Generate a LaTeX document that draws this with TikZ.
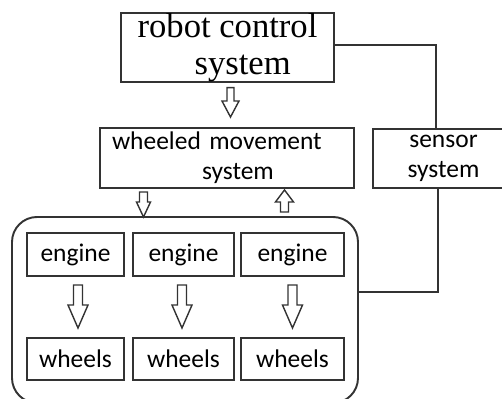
\documentclass[tikz,border=0pt]{standalone}
\usepackage{fontspec}
\newfontfamily\robotfont{Liberation Serif}
\newfontfamily\labelfont{Carlito}
\usetikzlibrary{calc}

\begin{document}
\begin{tikzpicture}[
    box/.style={rectangle, draw=black!80, line width=1.1pt, inner sep=0pt, font=\labelfont\fontsize{14.5pt}{17pt}\selectfont},
    part/.style={box, minimum height=0.86cm},
    line/.style={draw=black!80, line width=1.1pt},
    hollow/.style n args={3}{draw=black!80, line width=0.8pt, fill=white,
        to path={let \p1=(\tikztostart), \p2=(\tikztotarget),
            \n1={\y2+ifthenelse(\y1>\y2,#3,-#3)} in
            (\x1-#1,\y1) -- (\x1-#1,\n1) -- (\x1-#2,\n1) -- (\x1,\y2)
            -- (\x1+#2,\n1) -- (\x1+#1,\n1) -- (\x1+#1,\y1) -- cycle}},
]
\useasboundingbox (0,0) rectangle (10.04,-7.98);
\clip (0,0) rectangle (10.04,-7.98);

% Control and movement
\node[box, minimum width=4.26cm, minimum height=1.3cm, align=left,
      font=\robotfont\fontsize{19.7pt}{21pt}\selectfont] (robot) at (4.55, -0.95)
      {robot control\\\hspace*{1.14cm}system};
\node[box, minimum width=5.08cm, minimum height=1.2cm, text width=4.6cm, align=left] (wheeled) at (4.54, -3.16)
      {wheeled movement\\\hspace*{1.8cm}system};
\node[box, minimum width=2.82cm, minimum height=1.18cm, align=center] (sensor) at (8.87, -3.17) {sensor\\system};

% Drive group
\node[rectangle, draw=black!80, line width=1.1pt, rounded corners=0.5cm,
      minimum width=6.92cm, minimum height=3.72cm] (group) at (3.70, -6.20) {};
\node[part, minimum width=1.94cm] (engine1) at (1.51, -5.09) {engine};
\node[part, minimum width=2.02cm] (engine2) at (3.67, -5.09) {engine};
\node[part, minimum width=2.06cm] (engine3) at (5.85, -5.09) {engine};
\node[part, minimum width=1.94cm, minimum height=0.84cm] (wheels1) at (1.51, -7.18) {wheels};
\node[part, minimum width=2.02cm, minimum height=0.84cm] (wheels2) at (3.67, -7.18) {wheels};
\node[part, minimum width=2.06cm, minimum height=0.84cm] (wheels3) at (5.85, -7.18) {wheels};

% Arrows
\draw[hollow={0.07cm}{0.17cm}{0.32cm}] ([shift={(0.06,-0.1)}]robot.south) to ([yshift=0.2cm]wheeled.north);
\draw[hollow={0.08cm}{0.14cm}{0.30cm}] ([shift={(-1.67,-0.06)}]wheeled.south) to ([yshift=-0.02cm]group.north);
\draw[hollow={0.08cm}{0.18cm}{0.24cm}] ([shift={(1.99,0.08)}]group.north) to ([yshift=-0.02cm]wheeled.south);
\draw[hollow={0.09cm}{0.2cm}{0.46cm}] ([shift={(0.05,-0.16)}]engine1.south) to ([yshift=0.18cm]wheels1.north);
\draw[hollow={0.09cm}{0.2cm}{0.46cm}] ([shift={(-0.03,-0.16)}]engine2.south) to ([yshift=0.18cm]wheels2.north);
\draw[hollow={0.09cm}{0.2cm}{0.46cm}] ([yshift=-0.16cm]engine3.south) to ([yshift=0.18cm]wheels3.north);

% Lines
\draw[line] ([yshift=0.05cm]robot.east) -| ([xshift=-0.15cm]sensor.north);
\draw[line] ([xshift=-0.11cm]sensor.south) |- ([yshift=0.36cm]group.east);
\end{tikzpicture}
\end{document}
